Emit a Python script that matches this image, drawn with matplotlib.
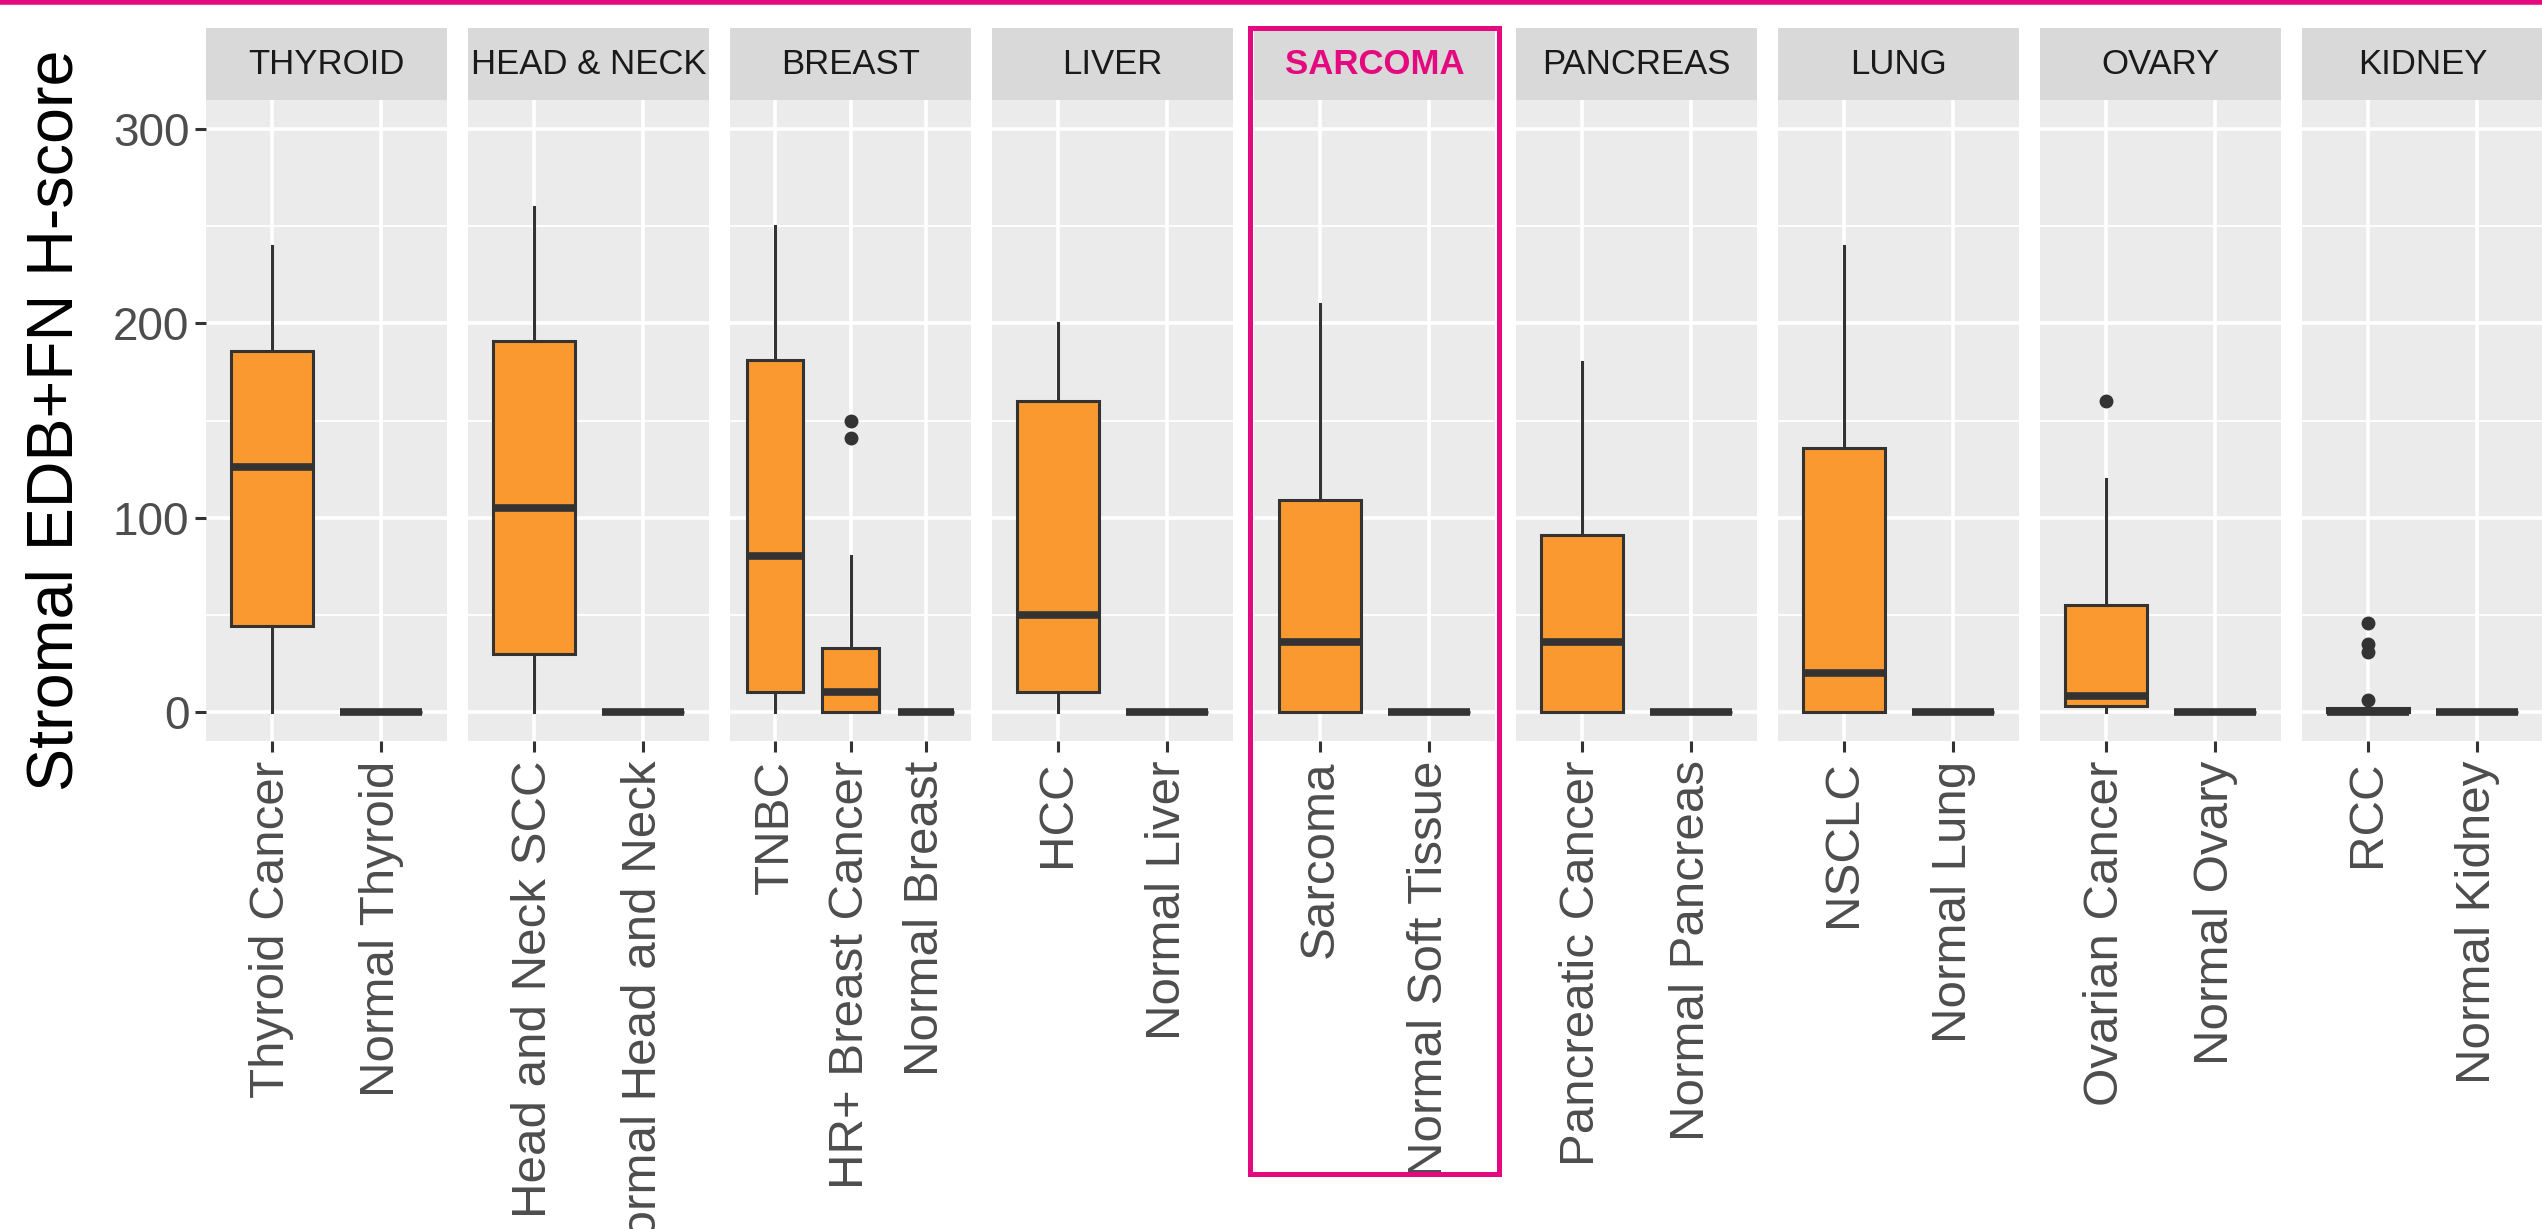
import matplotlib.pyplot as plt
from matplotlib.patches import Rectangle
from matplotlib.lines import Line2D

plt.rcParams['font.family'] = ['Liberation Sans', 'DejaVu Sans']

# facets, left to right
organs = ["THYROID", "HEAD & NECK", "BREAST", "LIVER", "SARCOMA",
          "PANCREAS", "LUNG", "OVARY", "KIDNEY"]
groups = [["Thyroid Cancer", "Normal Thyroid"],
          ["Head and Neck SCC", "Normal Head and Neck"],
          ["TNBC", "HR+ Breast Cancer", "Normal Breast"],
          ["HCC", "Normal Liver"],
          ["Sarcoma", "Normal Soft Tissue"],
          ["Pancreatic Cancer", "Normal Pancreas"],
          ["NSCLC", "Normal Lung"],
          ["Ovarian Cancer", "Normal Ovary"],
          ["RCC", "Normal Kidney"]]

# box statistics of stromal EDB+FN H-score per group
whisker_low = [[0, 0], [0, 0], [0, 0, 0], [0, 0], [0, 0],
               [0, 0], [0, 0], [0, 0], [0, 0]]
q1 = [[44, 0], [30, 0], [10, 0, 0], [10, 0], [0, 0],
      [0, 0], [0, 0], [3, 0], [0, 0]]
median = [[126, 0], [105, 0], [80, 10, 0], [50, 0], [36, 0],
          [36, 0], [20, 0], [8, 0], [0, 0]]
q3 = [[186, 0], [191, 0], [181, 33, 0], [160, 0], [109, 0],
      [91, 0], [136, 0], [55, 0], [2, 0]]
whisker_high = [[240, 0], [260, 0], [250, 80, 0], [200, 0], [210, 0],
                [180, 0], [240, 0], [120, 0], [4, 0]]
outliers = [[[], []], [[], []], [[], [141, 150], []], [[], []], [[], []],
            [[], []], [[], []], [[160], []], [[6, 31, 35, 46], []]]

highlight = "SARCOMA"
PINK = "#E5097F"
ORANGE = "#F9992F"
DARK = "#333333"

W, H = 2542, 1229
fig = plt.figure(figsize=(W / 100, H / 100), dpi=100)

left0, step, width = 206, 262, 241
top, bottom, strip_top = 100, 741, 28


def fx(px):
    return px / W


def fy(py):
    return 1 - py / H


for i, organ in enumerate(organs):
    x0 = left0 + i * step
    ax = fig.add_axes([fx(x0), fy(bottom), fx(width), fy(top) - fy(bottom)])
    ax.set_facecolor("#EBEBEB")
    n = len(groups[i])
    stats = []
    for j in range(n):
        stats.append(dict(whislo=whisker_low[i][j], q1=q1[i][j], med=median[i][j],
                          q3=q3[i][j], whishi=whisker_high[i][j],
                          fliers=outliers[i][j], label=groups[i][j]))
    ax.bxp(stats, positions=range(1, n + 1), widths=0.75, patch_artist=True,
           showcaps=False,
           boxprops=dict(facecolor=ORANGE, edgecolor=DARK, linewidth=2.2),
           medianprops=dict(color=DARK, linewidth=5.5, solid_capstyle="butt"),
           whiskerprops=dict(color=DARK, linewidth=2.2),
           flierprops=dict(marker="o", markerfacecolor=DARK, markeredgecolor=DARK,
                           markersize=9))
    ax.set_xlim(0.4, n + 0.6)
    ax.set_ylim(-15, 315)
    ax.set_yticks([0, 100, 200, 300])
    ax.set_yticks([50, 150, 250], minor=True)
    ax.set_xticks(range(1, n + 1))
    ax.set_xticklabels(groups[i], rotation=90, ha="center", va="top")
    ax.grid(True, which="major", color="white", linewidth=2.6)
    ax.grid(True, which="minor", axis="y", color="white", linewidth=1.3)
    ax.set_axisbelow(True)
    for s in ax.spines.values():
        s.set_visible(False)
    ax.tick_params(axis="x", length=8, width=2.2, color=DARK, pad=6,
                   labelsize=35.5, labelcolor="#4D4D4D")
    ax.tick_params(axis="y", which="minor", length=0)
    if i == 0:
        ax.tick_params(axis="y", length=8, width=2.2, color=DARK, pad=4,
                       labelsize=33, labelcolor="#4D4D4D")
    else:
        ax.tick_params(axis="y", left=False, labelleft=False)

    # facet strip
    sax = fig.add_axes([fx(x0), fy(top), fx(width), fy(strip_top) - fy(top)])
    sax.set_facecolor("#D9D9D9")
    sax.set_xticks([])
    sax.set_yticks([])
    for s in sax.spines.values():
        s.set_visible(False)
    if organ == highlight:
        sax.text(0.5, 0.5, organ, ha="center", va="center", fontsize=25,
                 color=PINK, fontweight="bold", transform=sax.transAxes)
        fig.add_artist(Rectangle((fx(x0 - 4), fy(1174)), fx(width + 8),
                                 fy(strip_top) - fy(1174), transform=fig.transFigure,
                                 fill=False, edgecolor=PINK, linewidth=3.6))
    else:
        sax.text(0.5, 0.5, organ, ha="center", va="center", fontsize=25,
                 color="#1A1A1A", transform=sax.transAxes)

fig.text(fx(56), fy((top + bottom) / 2), "Stromal EDB+FN H-score", rotation=90,
         ha="center", va="center", fontsize=46.5, color="black")

# pink rule along the top edge
fig.add_artist(Line2D([0, 1], [fy(2), fy(2)], transform=fig.transFigure,
                      color=PINK, linewidth=4))

fig.savefig("out.png", dpi=100)
